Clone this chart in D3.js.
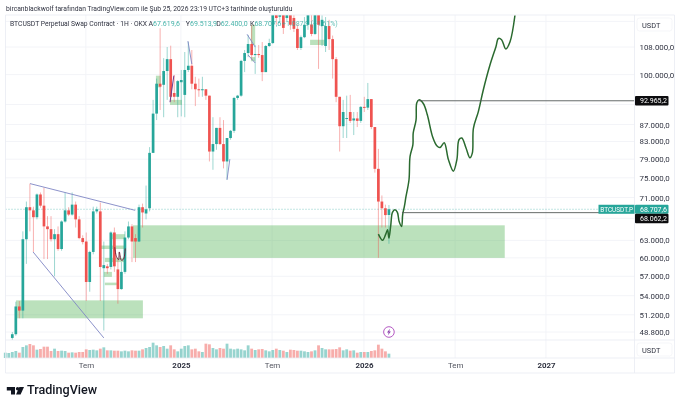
<!DOCTYPE html>
<html><head><meta charset="utf-8">
<script src="https://cdn.jsdelivr.net/npm/d3@7"></script>
<style>
html,body{margin:0;padding:0;background:#fff}
svg{display:block;font-family:Roboto,"Liberation Sans",sans-serif;filter:blur(.3px)}
</style></head><body><svg id="c" width="680" height="406"></svg>
<script>
// Weekly candles in thousand USDT, first entry is two weeks before week 0
const opens=[42.5,43.5,
48.0,48.5,52.4,51.8,63.2,69.1,68.5,67.2,71.6,69.4,
65.5,65.0,63.2,64.1,61.5,66.4,68.5,67.7,69.6,66.8,
63.4,62.8,56.1,61.0,68.3,68.3,58.3,58.6,58.5,64.4,
58.1,55.0,57.7,63.5,65.5,63.4,62.8,69.1,67.9,68.9,
80.4,89.7,97.5,97.2,101,104.4,95.0,94.0,97.9,94.5,
101.3,102.5,97.5,96.0,95.8,96,94.3,80.7,82.4,86.2,
82.4,78.5,83.8,85.5,93.7,94.3,103.9,106.2,108.9,105.6,
105.9,105.6,100.7,108.3,109.2,118.1,117.5,119,117.1,119,
117.1,113.6,107.7,111,114.9,115,112,119,114.5,108.3,
114.5,110.4,104.4,94,86.6,88.4,90.1,88,88.5,87.9,
91.4,91.2,93.4,86.4,76.9,70.2,68.9,67.62];
const closes=[43.5,47.4,
48.5,52.4,51.8,63.2,69.1,68.5,67.2,71.6,69.4,65.5,
65.0,63.2,64.1,61.5,66.4,68.5,67.7,69.6,66.8,63.4,
62.7,56.1,61.0,68.3,68.7,58.5,58.8,58.3,64.4,58.6,
55.0,57.7,63.5,65.5,62.8,62.8,69.1,68.1,68.7,80.4,
89.7,97.5,96.7,101.0,104.4,94.0,94.0,98.2,98.5,101.3,
102.5,97.5,96.0,95.8,96.0,94.3,80.7,82.4,86.2,82.4,
78.5,83.8,85.5,93.7,94.3,103.9,106.2,108.9,105.6,105.9,
105.6,100.7,108.3,109.2,118.1,117.1,119,113.9,119,114.9,
113.6,107.7,111,114.9,118.5,112,119,114.9,116.5,114.5,
110.4,104.4,94,86.6,90.1,88.6,87.9,88.5,87.9,91.4,
91.2,93.4,86.4,76.9,70.2,68.9,67.6,68.71];
const highs=[44,47.5,
48.8,53.1,53.2,64.6,70.2,73.8,69.2,71.8,72.0,73.0,
67.4,67.4,65.0,65.5,66.6,72.0,69.1,72.0,70.2,67.4,
63.9,64.4,61.2,69.2,69.2,70.0,62.8,59.0,64.6,65.3,
59.8,59.3,64.6,66.4,65.9,64.1,69.6,69.8,73.4,81.7,
93.2,98.9,113.8,104.7,108,108.4,99.9,98.5,101.3,106.5,
109.5,107.1,99.4,98.9,99.4,96,94.3,88.8,86.2,88.8,
88.1,83.8,85.7,94,94.5,104.2,107.1,111.7,114.9,108.6,
108.6,109.5,108.6,110.5,123,124,123,122,122,124,
118.5,115,111.5,117.4,122,119,123,126,118,117.4,
116.5,111.5,105,94,93.2,94.3,94.5,90.1,90.1,91.6,
94,97.7,93.4,86.4,81.3,71.4,69.6,69.51];
const lows=[42,43,
47.7,48.3,50.7,50.7,59.0,64.6,61.0,66.8,69.0,59.8,
59.8,62.8,57.0,61.2,61.2,66.2,67.4,67.5,65.3,63.2,
62.3,53.2,54.6,60.6,67.9,53.2,49.0,57.4,58.1,57.7,
52.8,54.9,57.4,63.2,59.3,59.3,62.7,65.3,66.8,68.3,
80.4,88.1,90.6,88.8,93.2,92.6,92.6,88.8,89.0,88.8,
100.7,96.0,91.6,94.0,94.0,93.2,78.5,76.7,81.1,82.2,
77.0,74.6,83.4,85.0,93.2,94,100.7,105,104.2,100.2,
104.8,98.2,100.7,108,108.9,114.9,115.5,112,115.8,113.3,
112.6,107.1,107.1,110.7,113.3,111.3,111.7,101.6,108.3,106.5,
107.1,98.9,92.6,80.7,83.8,83.8,87.4,84.5,86.4,87.4,
90.1,90.6,85.9,76.1,60.0,65.3,65.3,62.4];
const volumes=[16,15,18,21,16,33,38,42,38,25,27,34,34,21,28,21,22,21,16,17,16,18,18,26,24,25,23,28,32,23,23,22,22,20,22,20,23,22,22,26,30,33,46,38,33,36,28,38,26,20,28,36,38,26,28,20,18,43,41,30,26,30,28,43,28,26,28,26,23,38,28,24,26,27,23,20,24,28,24,22,18,25,24,22,22,20,18,20,23,38,30,26,26,26,27,32,23,26,22,23,16,18,18,18,21,23,40,28,20,13];

const priceTicks=[108,100,87,83,79,75,71,63,60,57,54,51.2,48.8];
const gridOnlyPrices=[116,92,67];
const timeTickWeeks=[20.9,47.9,73.8,99.9,125.8,151.6];
const timeTickLabels=["Tem","2025","Tem","2026","Tem","2027"];
const legendLabels=["A","Y","D","K"];
const legendValues=["67.619,6","69.513,9","62.400,0","68.707,6"];
const legendChange="+1.087,9 (+1,61%)";

// [start week, end week, upper price, lower price]
const zones=[[1.05,37.1,53.3,50.7],[34.3,139.9,65.7,60.0],
[28.3,32,64.1,63.2],[24.9,32,62.1,61.5],[26.3,32,60.0,59.3],[26,28.3,57.7,56.9],[26.3,29.7,56.0,55.6],
[40.8,42.2,99.7,96.5],[44.8,48.2,93.2,91.9],[67.8,69,114.9,108.6],[67.8,69,105,103.8],[84.6,88.8,110.2,108.6]];
// [week a, price a, week b, price b]
const blueLines=[[5.03,73.8,34.9,68.5],[5.9,61,26,48.0],[49.9,109.8,51,103],[66.7,111.9,69,108],[67,105.6,69,103.3],[61,74.6,61.8,79]];
const purpleLines=[[44.8,92.6,45.9,99.7]];
const redSketchWeeks=[29.1,29.6,30.2,30.4,31,31.6,32.1];
const redSketchPrices=[61.8,60.2,59.7,61,59.6,59.8,61.6];
const forecastWeeks=[104,105.2,106.1,106.6,107,107.5,108,108.7,109.4,109.9,110.6,110.9,111.4,111.8,112.7,113,113.8,113.9,114.7,114.9,115.5,116.8,117.9,119.4,120.6,121.5,122.7,123.9,125.3,126.3,126.9,127.7,128.9,130,130.7,131,132.4,133.8,135.7,137.4,138.1,139,140.2,141.4,142.8];
const forecastPrices=[64.1,63.0,64.1,64.9,63.4,65.6,68.1,68.6,68.1,66.4,65.5,67.7,69.3,71.0,74.6,79.6,82.2,85.0,88.1,92.4,93.2,92.2,89.4,84.1,82.0,81.6,82.7,78.9,76.4,78.9,83.4,83.8,81.5,79.3,80.4,86.1,90.2,95.8,102.7,108.1,110.6,110.2,107.4,109.6,118];
const levelWeeks=[115.3,110.7];
const levelPrices=[92.9652,68.0622];
const lastPrice=68.7076;

const UP="#26a69a",DOWN="#ef5350",GRID="#f3f4f8",BORDER="#e9ebf2",INK="#2f3240";
const L=5.5,R=634.5,T=15,B=340,VB=358,AB=373,RR=674.5;
const svg=d3.select("#c");
const x=d3.scaleLinear().domain([0,100]).range([12.3,364.3]);
const y=d3.scaleLog().domain([48.8,108]).range([332,47]);
const v=d3.scaleLinear().domain([0,57]).range([VB,VB-19]);
const tr=d3.formatLocale({decimal:",",thousands:".",grouping:[3],currency:["",""]}).format(",.1f");
const P=d=>tr(d*1000);
svg.append("defs").append("clipPath").attr("id","pane").append("rect").attr("x",L).attr("y",T).attr("width",R-L).attr("height",B-T);

// grid
const g=svg.append("g");
g.selectAll(".gh").data(priceTicks.concat(gridOnlyPrices)).join("line").attr("x1",L).attr("x2",R).attr("y1",d=>y(d)).attr("y2",d=>y(d)).attr("stroke",GRID);
g.selectAll(".gv").data(timeTickWeeks).join("line").attr("x1",d=>x(d)).attr("x2",d=>x(d)).attr("y1",T).attr("y2",VB).attr("stroke",GRID);

const pane=svg.append("g").attr("clip-path","url(#pane)");
pane.selectAll(".z").data(zones).join("rect").attr("x",d=>x(d[0])).attr("width",d=>x(d[1])-x(d[0]))
 .attr("y",d=>y(d[2])).attr("height",d=>y(d[3])-y(d[2])).attr("fill","#4caf50").attr("fill-opacity",.38);

// dotted last price
pane.append("line").attr("x1",L).attr("x2",R).attr("y1",y(lastPrice)).attr("y2",y(lastPrice)).attr("stroke",UP).attr("stroke-opacity",.55).attr("stroke-dasharray","1 2");

const idx=d3.range(opens.length),wk=i=>i-2,col=i=>closes[i]>=opens[i]?UP:DOWN;
pane.selectAll(".w").data(idx).join("line").attr("x1",i=>x(wk(i))).attr("x2",i=>x(wk(i)))
 .attr("y1",i=>y(highs[i])).attr("y2",i=>y(lows[i])).attr("stroke",col).attr("stroke-opacity",.5).attr("stroke-width",.9);
pane.selectAll(".b").data(idx).join("rect").attr("x",i=>x(wk(i))-1.35).attr("width",2.7)
 .attr("y",i=>y(Math.max(opens[i],closes[i]))).attr("height",i=>Math.max(1,Math.abs(y(opens[i])-y(closes[i])))).attr("fill",col);

const seg=(sel,data,c,w)=>sel.selectAll(null).data(data).join("line").attr("x1",d=>x(d[0])).attr("y1",d=>y(d[1])).attr("x2",d=>x(d[2])).attr("y2",d=>y(d[3])).attr("stroke",c).attr("stroke-width",w);
seg(pane,blueLines,"#7f86c4",.9);
seg(pane,purpleLines,"#6a3d8f",1);
const ln=d3.line().x(d=>x(d[0])).y(d=>y(d[1])).curve(d3.curveCatmullRom.alpha(.5));
pane.append("path").attr("d",ln(redSketchWeeks.map((w,i)=>[w,redSketchPrices[i]]))).attr("fill","none").attr("stroke","#6e1f3a").attr("stroke-width",1);
pane.append("path").attr("d",ln(forecastWeeks.map((w,i)=>[w,forecastPrices[i]]))).attr("fill","none").attr("stroke","#2a6a2f").attr("stroke-width",1.5);

// level lines
svg.selectAll(".lv").data(levelPrices).join("line").attr("x1",(d,i)=>x(levelWeeks[i])).attr("x2",R).attr("y1",d=>y(d)).attr("y2",d=>y(d)).attr("stroke","#555a58").attr("stroke-width",.9);

// legend
svg.append("text").attr("x",10).attr("y",26).attr("font-size",6.75).attr("fill",INK).text("BTCUSDT Perpetual Swap Contract · 1H · OKX");
const legendX=d3.scalePoint().domain(legendLabels).range([148.5,250]);
const legendOffset={A:0,Y:3.5,D:0,K:0};
legendLabels.forEach((k,i)=>{
 const t=svg.append("text").attr("x",legendX(k)+legendOffset[k]).attr("y",26).attr("font-size",7).attr("fill",INK);
 t.append("tspan").text(k);
 t.append("tspan").attr("fill",UP).attr("fill-opacity",.85).text(legendValues[i]);
});
svg.append("text").attr("x",282).attr("y",26).attr("font-size",7).attr("fill",UP).attr("fill-opacity",.7).text(legendChange);
svg.append("text").attr("x",6).attr("y",11.3).attr("font-size",6.75).attr("fill",INK).text("bircanblackwolf tarafından TradingView.com ile Şub 25, 2026 23:19 UTC+3 tarihinde oluşturuldu");

// volumes
svg.selectAll(".vb").data(idx).join("rect").attr("x",i=>x(wk(i))-1.4).attr("width",2.8)
 .attr("y",i=>v(volumes[i])).attr("height",i=>VB-v(volumes[i])).attr("fill",col).attr("fill-opacity",.48);

// frame
const frame=[[L,T,RR,T],[L,B,RR,B],[L,VB,RR,VB],[L,AB,RR,AB],[L,T,L,AB],[R,T,R,AB],[RR,T,RR,AB]];
svg.selectAll(".f").data(frame).join("line").attr("x1",d=>d[0]).attr("y1",d=>d[1]).attr("x2",d=>d[2]).attr("y2",d=>d[3]).attr("stroke",BORDER).attr("stroke-width",.8);

// axes
const ay=svg.append("g").attr("transform",`translate(${R},0)`).call(d3.axisRight(y).tickValues(priceTicks).tickFormat(P).tickSize(0).tickPadding(5));
const ax=svg.append("g").attr("transform",`translate(0,${VB})`).call(d3.axisBottom(x).tickValues(timeTickWeeks).tickFormat((d,i)=>timeTickLabels[i]).tickSize(0).tickPadding(4));
[ay,ax].forEach(a=>{a.select(".domain").remove();a.selectAll("text").attr("fill",INK).attr("font-size",7.9).attr("font-family",'Roboto,"Liberation Sans",sans-serif');});
ax.selectAll("text").attr("font-weight",d=>timeTickLabels[timeTickWeeks.indexOf(d)]==="Tem"?400:700).attr("fill-opacity",d=>timeTickLabels[timeTickWeeks.indexOf(d)]==="Tem"?.85:1);

// unit boxes
[[637,18,24.5],[637,343,349.5]].forEach(b=>{
 svg.append("rect").attr("x",b[0]).attr("y",b[1]).attr("width",35).attr("height",13).attr("rx",2.5).attr("fill","#fff").attr("stroke","#f1f2f6").attr("stroke-width",.7);
 svg.append("text").attr("x",642).attr("y",b[2]+3).attr("font-size",7.4).attr("fill",INK).text("USDT");
});

// badges
const badge=(c,fill,txt,h)=>{
 svg.append("rect").attr("x",R+.5).attr("y",c-h/2).attr("width",33.5).attr("height",h).attr("rx",1).attr("fill",fill);
 svg.append("text").attr("x",R+5.5).attr("y",c+2.5).attr("font-size",7).attr("fill","#fff").text(txt);};
badge(y(levelPrices[0]),"#0d0d0f",P(levelPrices[0]),9.5);
badge(y(lastPrice),UP,P(lastPrice),9);
badge(y(lastPrice)+9.2,"#0d0d0f",P(levelPrices[1]),9.4);
svg.append("rect").attr("x",598.5).attr("y",y(lastPrice)-4.5).attr("width",36).attr("height",9).attr("fill",UP);
svg.append("text").attr("x",600.3).attr("y",y(lastPrice)+2.5).attr("font-size",6.4).attr("fill","#fff").text("BTCUSDT.P");

// event marker
const mx=x(107),my=y(48.8);
svg.append("circle").attr("cx",mx).attr("cy",my).attr("r",5.3).attr("fill","#fff").attr("stroke","#ab47bc").attr("stroke-width",.9);
svg.append("path").attr("transform",`translate(${mx},${my})`).attr("d","M1,-3.2L-2,0.6L-0.3,0.6L-1,3.2L2,-0.6L0.3,-0.6Z").attr("fill","#8e44ad");

// logo
const logo=svg.append("g").attr("fill","#131722");
logo.append("path").attr("d","M6.8,387H15V394.4H11V390.6H6.8Z");
logo.append("circle").attr("cx",17.6).attr("cy",388.8).attr("r",1.7);
logo.append("path").attr("d","M19.4,387H24L20.6,394.4H16Z");
svg.append("text").attr("x",27).attr("y",394.4).attr("font-size",12.6).attr("font-weight",500).attr("fill","#131722").text("TradingView");
</script></body></html>
